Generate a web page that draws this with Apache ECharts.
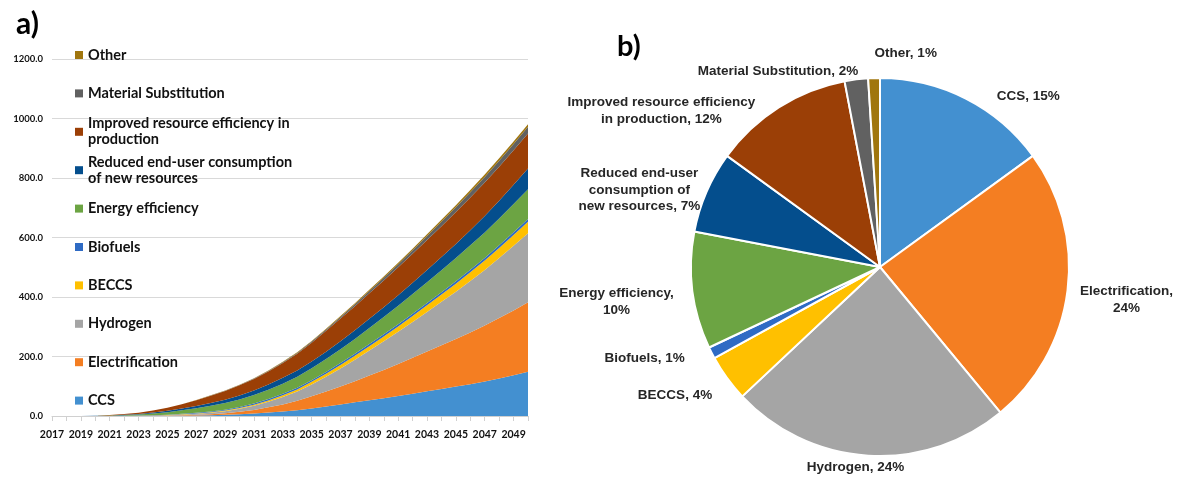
<!DOCTYPE html>
<html>
<head>
<meta charset="utf-8">
<script src="https://cdn.jsdelivr.net/npm/echarts@6/dist/echarts.min.js"></script>
<style>html,body{margin:0;padding:0;background:#fff}#c{width:1183px;height:482px}</style>
</head>
<body>
<div id="c"></div>
<script>
const years = ['2017','2018','2019','2020','2021','2022','2023','2024','2025','2026','2027','2028','2029','2030','2031','2032','2033','2034','2035','2036','2037','2038','2039','2040','2041','2042','2043','2044','2045','2046','2047','2048','2049','2050'];
const yTicks = [0, 200, 400, 600, 800, 1000, 1200];

const ccs            = [0,0,0,0,0,0,0.1,0.2,0.4,1,1.6,2.5,4,6,8.5,11.5,15,19,25,32,39,46,53,60,67,75,83,91,99,107,116,126,137,149];
const electrification= [0,0,0,0,0,0.1,0.2,0.4,0.8,1.4,2.3,3.5,5,8,12,17.5,24,32,41,50,60,71,83,95,108,121,134,147,160,174,188,203,218,233];
const hydrogen       = [0,0,0,0,0.1,0.2,0.4,0.8,1.3,2.2,3.4,5,7,10,14,19,25,31,40,50,61,72,84,96,108,120,133,146,159,173,187,202,217,232];
const beccs          = [0,0,0,0,0,0.1,0.2,0.4,0.6,0.9,1.2,1.6,2.1,2.7,3.5,4.5,5.8,7.2,8.8,10.3,11.8,13.3,14.8,16.3,18,20,22,24,26.5,29,31.5,34,36.5,39];
const biofuels       = [0,0,0,0,0.2,0.4,0.6,1,1.4,1.8,2.2,2.7,3.2,3.7,4.2,4.6,5,5.4,5.7,6,6.3,6.6,6.9,7.2,7.5,7.8,8,8.2,8.4,8.6,8.7,8.8,8.9,9];
const energyEff      = [0,0,0,0.3,1,2,3.5,6,8.5,12,15.5,19,22,25,28,31,34,37,40,43,46.5,50,54,58,62,66,70,74,78,82,86,90,95,100];
const reducedUse     = [0,0,0,0.2,0.6,1.2,2,3.2,4.5,6,7.5,9.5,11.5,13.5,15.5,17.5,19.5,21.5,23,25,27,29,31,33,35.5,38,41,44,47.5,51,55,59.5,64.5,70];
const improvedEff    = [0,0,0,0.5,1.2,2.4,4,6.5,10,14,19,24.5,29.5,34.5,39,44,50,56,63,70,76,81,86,90,94,97.5,101,104,107,110,112.5,114.5,116.5,118];
const materialSub    = [0,0,0,0,0,0,0,0.1,0.2,0.3,0.4,0.6,0.8,1,1.3,1.8,2.3,2.9,3.6,4.5,5.5,6.5,7.6,8.8,10,11.5,13,14.5,16,17.5,19,20,21,22];
const other          = [0,0,0,0,0,0,0,0.1,0.2,0.3,0.4,0.5,0.6,0.8,1,1.3,1.6,2,2.4,2.8,3.2,3.6,4,4.6,5.2,5.8,6.3,6.8,7.2,7.6,8,8.4,8.7,9];

const seriesNames = ['CCS','Electrification','Hydrogen','BECCS','Biofuels','Energy efficiency','Reduced end-user consumption of new resources','Improved resource efficiency in production','Material Substitution','Other'];
const legendLabels = ['CCS','Electrification','Hydrogen','BECCS','Biofuels','Energy efficiency','Reduced end-user consumption\nof new resources','Improved resource efficiency in\nproduction','Material Substitution','Other'];
const seriesData = [ccs, electrification, hydrogen, beccs, biofuels, energyEff, reducedUse, improvedEff, materialSub, other];

const pieShares = [15, 24, 24, 4, 1, 10, 7, 12, 2, 1];
const pieLabels = ['CCS','Electrification,\n','Hydrogen','BECCS','Biofuels','Energy efficiency,\n','Reduced end-user\nconsumption of\nnew resources','Improved resource efficiency\nin production','Material Substitution','Other'];

const colors = ['#4390D0','#F47E22','#A5A5A5','#FFC000','#2F6BC4','#6CA443','#044E8D','#9B3F06','#616161','#A0760E'];

const chart = echarts.init(document.getElementById('c'), null, {renderer: 'canvas'});

const legendFont = 'Lato, "Liberation Sans", sans-serif';
const pieFont = '"Liberation Sans", Arial, sans-serif';

// small label nudges (pixels) to mimic the original label placement
const pieLabelNudge = [[53, 7], [44, 8], [-7, 2], [-39, 11], [-53, 1], [-61, 10], [-53, 2], [-107, 12], [-72, 2], [37, -15]];

const legends = [];
for (let k = 0; k < seriesNames.length; k++) {
  const idx = seriesNames.length - 1 - k;
  const center = 55 + k * 38.4;
  const twoLine = legendLabels[idx].indexOf('\n') >= 0;
  legends.push({
    data: [seriesNames[idx]],
    orient: 'vertical',
    left: 75,
    top: twoLine ? center - 24 : center - 8,
    padding: 0,
    itemWidth: 8,
    itemHeight: 8,
    icon: 'rect',
    formatter: function () { return legendLabels[idx]; },
    textStyle: {
      fontFamily: legendFont, fontWeight: 'bold', fontSize: 14.5, color: '#111',
      lineHeight: 16, padding: twoLine ? [16, 0, 0, 0] : 0
    }
  });
}

const areaSeries = seriesNames.map((n, i) => ({
  name: n,
  type: 'line',
  stack: 'total',
  data: seriesData[i],
  symbol: 'none',
  lineStyle: {width: 0},
  areaStyle: {color: colors[i], opacity: 1},
  itemStyle: {color: colors[i]},
  emphasis: {disabled: true}
}));

const option = {
  animation: false,
  color: colors,
  title: [
    {text: 'a)', left: 11, top: 4, textStyle: {fontFamily: legendFont, fontWeight: 'bold', fontSize: 30, color: '#000'}},
    {text: 'b)', left: 612, top: 27, textStyle: {fontFamily: legendFont, fontWeight: 'bold', fontSize: 29, color: '#000'}}
  ],
  legend: legends,
  grid: {left: 52, right: 655, top: 59, bottom: 66, containLabel: false},
  xAxis: {
    type: 'category',
    data: years,
    boundaryGap: false,
    axisLine: {lineStyle: {color: '#d0d0d0'}},
    axisTick: {show: true, interval: 0, length: 5, lineStyle: {color: '#d0d0d0'}},
    axisLabel: {interval: 1, margin: 13, fontFamily: legendFont, fontWeight: 'bold', fontSize: 10.5, color: '#111'}
  },
  yAxis: {
    type: 'value',
    min: yTicks[0],
    max: yTicks[yTicks.length - 1],
    interval: 200,
    axisLine: {show: false},
    axisTick: {show: false},
    splitLine: {lineStyle: {color: '#d9d9d9', width: 1}},
    axisLabel: {margin: 9, fontFamily: legendFont, fontWeight: 'bold', fontSize: 9.5, color: '#111',
      formatter: v => v.toFixed(1)}
  },
  series: areaSeries.concat([{
    name: 'share',
    type: 'pie',
    center: [880, 267],
    radius: 189,
    startAngle: 90,
    clockwise: true,
    avoidLabelOverlap: false,
    legendHoverLink: false,
    emphasis: {disabled: true},
    itemStyle: {borderColor: '#fff', borderWidth: 2},
    label: {
      show: true,
      position: 'outside',
      overflow: 'none',
      fontFamily: pieFont,
      fontWeight: 'bold',
      fontSize: 13.5,
      lineHeight: 16.5,
      color: '#262626',
      align: 'center',
      formatter: function (p) {
        const lbl = pieLabels[p.dataIndex];
        const pct = Math.round(p.percent) + '%';
        return lbl.endsWith('\n') ? lbl + pct : lbl + ', ' + pct;
      }
    },
    labelLine: {show: false, length: 10, length2: 0},
    labelLayout: function (params) {
      const n = pieLabelNudge[params.dataIndex] || [0, 0];
      return {dx: n[0], dy: n[1], align: 'center', hideOverlap: false, moveOverlap: null};
    },
    data: seriesNames.map((n, i) => ({name: n, value: pieShares[i], itemStyle: {color: colors[i]}}))
  }])
};
chart.setOption(option);
</script>
</body>
</html>
